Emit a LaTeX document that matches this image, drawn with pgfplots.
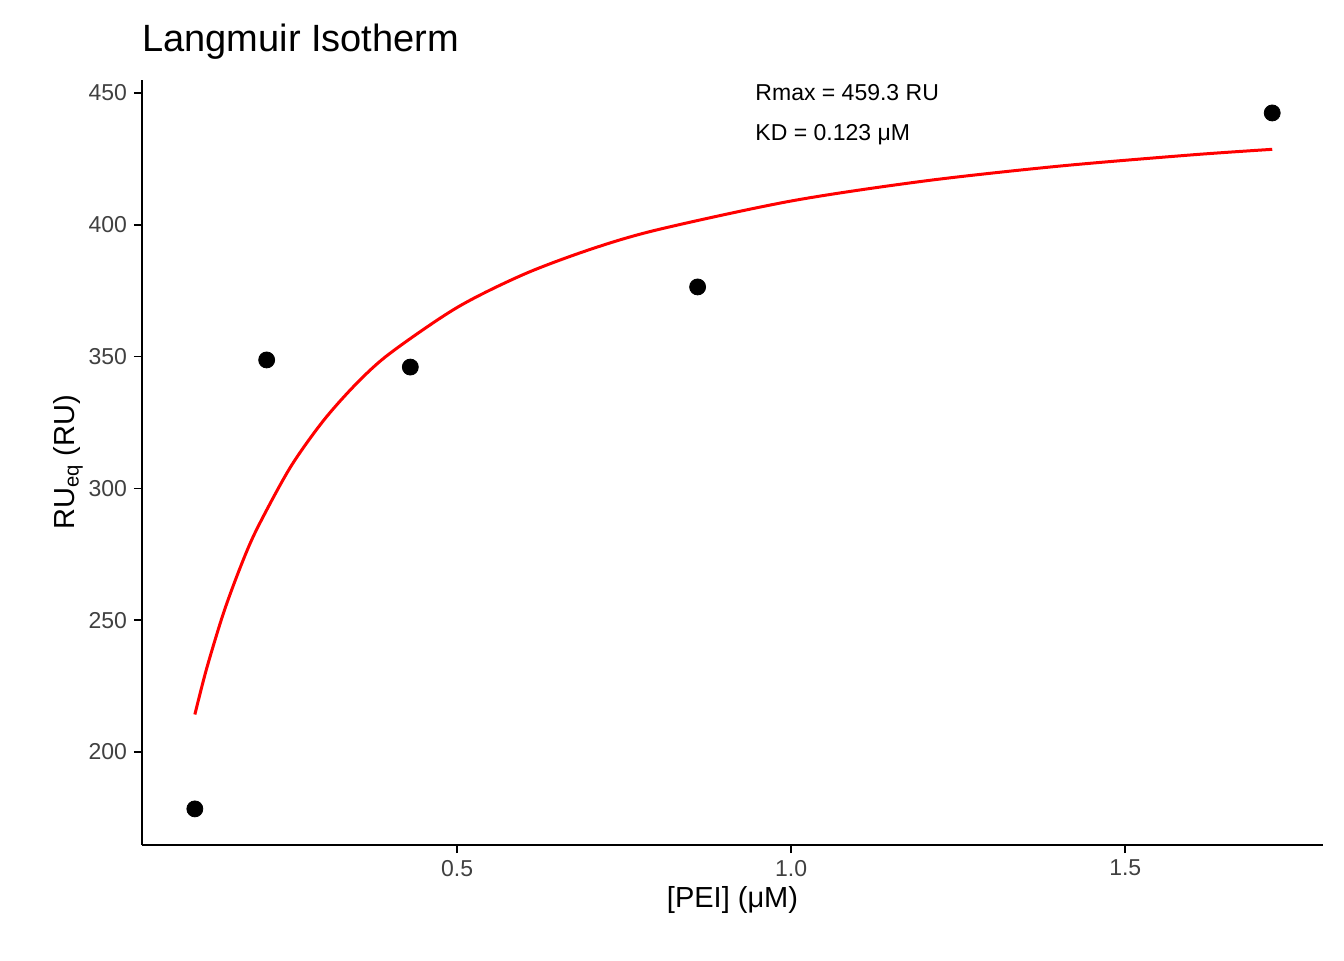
\documentclass[border=0pt]{standalone}
\usepackage{fontspec}
\setmainfont{Liberation Sans}
\usepackage{pgfplots}
\pgfplotsset{compat=1.18}
\begin{document}
\begin{tikzpicture}
\path (-71pt,-57.5pt) rectangle (601pt,422.5pt);
\begin{axis}[at={(0,0)},anchor=south west,scale only axis,width=590.5pt,height=382.5pt,
 xmin=0.0284,xmax=1.796,ymin=164.7,ymax=454.9,
 axis x line*=bottom, axis y line*=left, axis line style={black,line width=0.8pt},
 xtick={0.5,1.0,1.5}, xticklabels={0.5,1.0,1.5},
 ytick={200,250,300,350,400,450},
 tick style={black,line width=0.8pt}, tick align=outside, major tick length=4pt,
 ticklabel style={font=\fontsize{11.5}{13}\selectfont,text=black!75},
 /pgf/number format/assume math mode=true,
 xlabel={[PEI] (μM)}, ylabel={RU\textsubscript{eq} (RU)},
 label style={font=\fontsize{14.5}{17}\selectfont},
 ylabel style={yshift=-4pt}, xlabel style={yshift=2pt},
 clip=false]
\addplot[red,line width=1.5pt,smooth] coordinates {
(0.1075,214.2)(0.125,231.5)(0.15,252.4)(0.175,269.7)(0.2,284.4)(0.25,307.8)(0.3,325.7)(0.35,339.9)(0.4,351.3)(0.5,368.6)(0.6,381.2)(0.7,390.7)(0.8,398.1)(1.0,409.0)(1.2,416.6)(1.4,422.2)(1.6,426.5)(1.72,428.6)};
\addplot[only marks,mark=*,mark size=4pt,black] coordinates {
(0.1075,178.4)(0.215,348.7)(0.43,346.0)(0.86,376.4)(1.72,442.4)};
\node[anchor=west,font=\fontsize{11.5}{13}\selectfont,inner sep=0pt] at (axis cs:0.946,450) {Rmax = 459.3 RU};
\node[anchor=west,font=\fontsize{11.5}{13}\selectfont,inner sep=0pt] at (axis cs:0.946,434) {KD = 0.123 μM};
\node[anchor=base west,inner sep=0pt,font=\fontsize{19}{22}\selectfont] at (rel axis cs:0,1) [yshift=14pt] {Langmuir Isotherm};
\end{axis}
\end{tikzpicture}
\end{document}
